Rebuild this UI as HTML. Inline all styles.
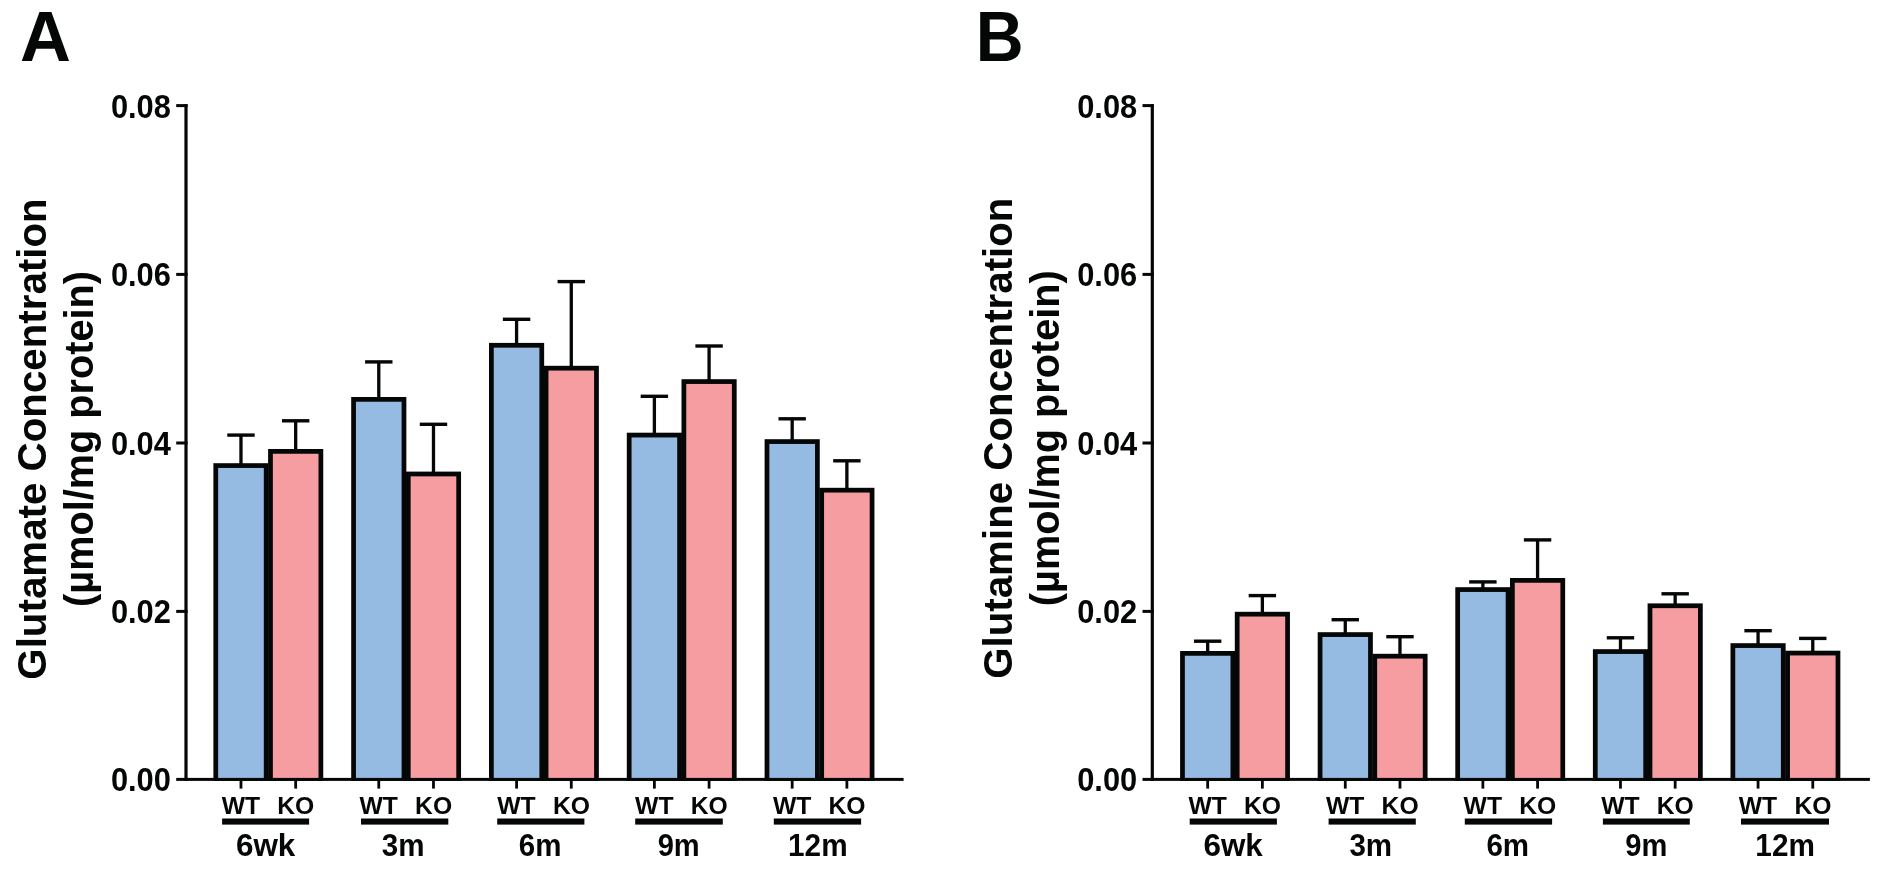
<!DOCTYPE html>
<html><head><meta charset="utf-8"><style>
html,body{margin:0;padding:0;background:#fff;width:1885px;height:877px;overflow:hidden}
svg{display:block;will-change:transform}
text{font-family:"Liberation Sans",sans-serif;font-weight:bold;fill:#050707}
</style></head><body>
<svg width="1885" height="877" viewBox="0 0 1885 877">
<rect width="1885" height="877" fill="#fff"/>
<rect x="184.40" y="104.30" width="3.20" height="676.60" fill="#050707"/>
<rect x="176.20" y="777.90" width="727.40" height="3.00" fill="#050707"/>
<rect x="176.20" y="104.10" width="11.40" height="3.00" fill="#050707"/>
<rect x="176.20" y="272.90" width="11.40" height="3.00" fill="#050707"/>
<rect x="176.20" y="441.50" width="11.40" height="3.00" fill="#050707"/>
<rect x="176.20" y="609.90" width="11.40" height="3.00" fill="#050707"/>
<text transform="translate(170.90,117.50) scale(0.907,1)" font-size="34" text-anchor="end">0.08</text>
<text transform="translate(170.90,286.30) scale(0.907,1)" font-size="34" text-anchor="end">0.06</text>
<text transform="translate(170.90,454.90) scale(0.907,1)" font-size="34" text-anchor="end">0.04</text>
<text transform="translate(170.90,623.30) scale(0.907,1)" font-size="34" text-anchor="end">0.02</text>
<text transform="translate(170.90,791.30) scale(0.907,1)" font-size="34" text-anchor="end">0.00</text>
<rect x="213.40" y="463.20" width="55.15" height="317.70" fill="#050707"/>
<rect x="218.15" y="467.95" width="45.65" height="309.95" fill="#96bbe3"/>
<rect x="239.32" y="434.40" width="3.30" height="29.80" fill="#050707"/>
<rect x="227.28" y="433.40" width="27.40" height="3.40" fill="#050707"/>
<rect x="239.57" y="780.40" width="2.80" height="8.20" fill="#050707"/>
<rect x="268.10" y="449.00" width="55.15" height="331.90" fill="#050707"/>
<rect x="272.85" y="453.75" width="45.65" height="324.15" fill="#f69da1"/>
<rect x="294.03" y="420.10" width="3.30" height="29.90" fill="#050707"/>
<rect x="281.98" y="419.10" width="27.40" height="3.40" fill="#050707"/>
<rect x="294.28" y="780.40" width="2.80" height="8.20" fill="#050707"/>
<text x="240.90" y="814.10" font-size="24.7" text-anchor="middle" >WT</text>
<text x="295.80" y="814.10" font-size="24.7" text-anchor="middle" >KO</text>
<rect x="222.10" y="818.50" width="87.00" height="6.10" fill="#050707"/>
<rect x="351.20" y="397.00" width="55.15" height="383.90" fill="#050707"/>
<rect x="355.95" y="401.75" width="45.65" height="376.15" fill="#96bbe3"/>
<rect x="377.13" y="361.20" width="3.30" height="36.80" fill="#050707"/>
<rect x="365.08" y="360.20" width="27.40" height="3.40" fill="#050707"/>
<rect x="377.38" y="780.40" width="2.80" height="8.20" fill="#050707"/>
<rect x="405.90" y="471.60" width="55.15" height="309.30" fill="#050707"/>
<rect x="410.65" y="476.35" width="45.65" height="301.55" fill="#f69da1"/>
<rect x="431.83" y="423.60" width="3.30" height="49.00" fill="#050707"/>
<rect x="419.78" y="422.60" width="27.40" height="3.40" fill="#050707"/>
<rect x="432.08" y="780.40" width="2.80" height="8.20" fill="#050707"/>
<text x="378.70" y="814.10" font-size="24.7" text-anchor="middle" >WT</text>
<text x="433.60" y="814.10" font-size="24.7" text-anchor="middle" >KO</text>
<rect x="361.00" y="818.50" width="87.30" height="6.10" fill="#050707"/>
<rect x="489.00" y="342.90" width="55.15" height="438.00" fill="#050707"/>
<rect x="493.75" y="347.65" width="45.65" height="430.25" fill="#96bbe3"/>
<rect x="514.93" y="318.60" width="3.30" height="25.30" fill="#050707"/>
<rect x="502.88" y="317.60" width="27.40" height="3.40" fill="#050707"/>
<rect x="515.18" y="780.40" width="2.80" height="8.20" fill="#050707"/>
<rect x="543.70" y="365.80" width="55.15" height="415.10" fill="#050707"/>
<rect x="548.45" y="370.55" width="45.65" height="407.35" fill="#f69da1"/>
<rect x="569.63" y="280.90" width="3.30" height="85.90" fill="#050707"/>
<rect x="557.58" y="279.90" width="27.40" height="3.40" fill="#050707"/>
<rect x="569.88" y="780.40" width="2.80" height="8.20" fill="#050707"/>
<text x="516.50" y="814.10" font-size="24.7" text-anchor="middle" >WT</text>
<text x="571.40" y="814.10" font-size="24.7" text-anchor="middle" >KO</text>
<rect x="497.20" y="818.50" width="87.20" height="6.10" fill="#050707"/>
<rect x="626.80" y="432.70" width="55.15" height="348.20" fill="#050707"/>
<rect x="631.55" y="437.45" width="45.65" height="340.45" fill="#96bbe3"/>
<rect x="652.73" y="395.60" width="3.30" height="38.10" fill="#050707"/>
<rect x="640.68" y="394.60" width="27.40" height="3.40" fill="#050707"/>
<rect x="652.98" y="780.40" width="2.80" height="8.20" fill="#050707"/>
<rect x="681.50" y="379.20" width="55.15" height="401.70" fill="#050707"/>
<rect x="686.25" y="383.95" width="45.65" height="393.95" fill="#f69da1"/>
<rect x="707.43" y="345.30" width="3.30" height="34.90" fill="#050707"/>
<rect x="695.38" y="344.30" width="27.40" height="3.40" fill="#050707"/>
<rect x="707.68" y="780.40" width="2.80" height="8.20" fill="#050707"/>
<text x="654.30" y="814.10" font-size="24.7" text-anchor="middle" >WT</text>
<text x="709.20" y="814.10" font-size="24.7" text-anchor="middle" >KO</text>
<rect x="635.20" y="818.50" width="87.60" height="6.10" fill="#050707"/>
<rect x="764.60" y="439.20" width="55.15" height="341.70" fill="#050707"/>
<rect x="769.35" y="443.95" width="45.65" height="333.95" fill="#96bbe3"/>
<rect x="790.53" y="418.10" width="3.30" height="22.10" fill="#050707"/>
<rect x="778.48" y="417.10" width="27.40" height="3.40" fill="#050707"/>
<rect x="790.78" y="780.40" width="2.80" height="8.20" fill="#050707"/>
<rect x="819.30" y="487.80" width="55.15" height="293.10" fill="#050707"/>
<rect x="824.05" y="492.55" width="45.65" height="285.35" fill="#f69da1"/>
<rect x="845.23" y="460.10" width="3.30" height="28.70" fill="#050707"/>
<rect x="833.18" y="459.10" width="27.40" height="3.40" fill="#050707"/>
<rect x="845.48" y="780.40" width="2.80" height="8.20" fill="#050707"/>
<text x="792.10" y="814.10" font-size="24.7" text-anchor="middle" >WT</text>
<text x="847.00" y="814.10" font-size="24.7" text-anchor="middle" >KO</text>
<rect x="773.80" y="818.50" width="87.30" height="6.10" fill="#050707"/>
<text transform="translate(265.60,856.2) scale(1.03,1)" font-size="30.5" text-anchor="middle">6wk</text>
<text transform="translate(403.10,856.2) scale(0.97,1)" font-size="30.5" text-anchor="middle">3m</text>
<text transform="translate(540.05,856.2) scale(0.968,1)" font-size="30.5" text-anchor="middle">6m</text>
<text transform="translate(678.65,856.2) scale(0.953,1)" font-size="30.5" text-anchor="middle">9m</text>
<text transform="translate(817.80,856.2) scale(0.976,1)" font-size="30.5" text-anchor="middle">12m</text>
<g transform="translate(45.8,439) rotate(-90)"><text x="0" y="0" font-size="40.3" text-anchor="middle">Glutamate Concentration</text></g>
<g transform="translate(92.5,439) rotate(-90) scale(0.985,1)"><text x="0" y="0" font-size="40.3" text-anchor="middle">(&#181;mol/mg protein)</text></g>
<text x="20.00" y="60.70" font-size="70.5" text-anchor="start" >A</text>
<rect x="1150.70" y="104.30" width="3.20" height="676.60" fill="#050707"/>
<rect x="1142.50" y="777.90" width="727.40" height="3.00" fill="#050707"/>
<rect x="1142.50" y="104.10" width="11.40" height="3.00" fill="#050707"/>
<rect x="1142.50" y="272.90" width="11.40" height="3.00" fill="#050707"/>
<rect x="1142.50" y="441.50" width="11.40" height="3.00" fill="#050707"/>
<rect x="1142.50" y="609.90" width="11.40" height="3.00" fill="#050707"/>
<text transform="translate(1137.20,117.50) scale(0.907,1)" font-size="34" text-anchor="end">0.08</text>
<text transform="translate(1137.20,286.30) scale(0.907,1)" font-size="34" text-anchor="end">0.06</text>
<text transform="translate(1137.20,454.90) scale(0.907,1)" font-size="34" text-anchor="end">0.04</text>
<text transform="translate(1137.20,623.30) scale(0.907,1)" font-size="34" text-anchor="end">0.02</text>
<text transform="translate(1137.20,791.30) scale(0.907,1)" font-size="34" text-anchor="end">0.00</text>
<rect x="1180.10" y="651.00" width="55.15" height="129.90" fill="#050707"/>
<rect x="1184.85" y="655.75" width="45.65" height="122.15" fill="#96bbe3"/>
<rect x="1206.02" y="640.50" width="3.30" height="11.50" fill="#050707"/>
<rect x="1193.97" y="639.50" width="27.40" height="3.40" fill="#050707"/>
<rect x="1206.27" y="780.40" width="2.80" height="8.20" fill="#050707"/>
<rect x="1234.80" y="611.80" width="55.15" height="169.10" fill="#050707"/>
<rect x="1239.55" y="616.55" width="45.65" height="161.35" fill="#f69da1"/>
<rect x="1260.72" y="594.90" width="3.30" height="17.90" fill="#050707"/>
<rect x="1248.67" y="593.90" width="27.40" height="3.40" fill="#050707"/>
<rect x="1260.97" y="780.40" width="2.80" height="8.20" fill="#050707"/>
<text x="1207.60" y="814.10" font-size="24.7" text-anchor="middle" >WT</text>
<text x="1262.50" y="814.10" font-size="24.7" text-anchor="middle" >KO</text>
<rect x="1189.70" y="818.50" width="87.20" height="6.10" fill="#050707"/>
<rect x="1317.70" y="632.20" width="55.15" height="148.70" fill="#050707"/>
<rect x="1322.45" y="636.95" width="45.65" height="140.95" fill="#96bbe3"/>
<rect x="1343.62" y="619.00" width="3.30" height="14.20" fill="#050707"/>
<rect x="1331.57" y="618.00" width="27.40" height="3.40" fill="#050707"/>
<rect x="1343.87" y="780.40" width="2.80" height="8.20" fill="#050707"/>
<rect x="1372.40" y="653.80" width="55.15" height="127.10" fill="#050707"/>
<rect x="1377.15" y="658.55" width="45.65" height="119.35" fill="#f69da1"/>
<rect x="1398.32" y="636.00" width="3.30" height="18.80" fill="#050707"/>
<rect x="1386.27" y="635.00" width="27.40" height="3.40" fill="#050707"/>
<rect x="1398.57" y="780.40" width="2.80" height="8.20" fill="#050707"/>
<text x="1345.20" y="814.10" font-size="24.7" text-anchor="middle" >WT</text>
<text x="1400.10" y="814.10" font-size="24.7" text-anchor="middle" >KO</text>
<rect x="1328.60" y="818.50" width="87.20" height="6.10" fill="#050707"/>
<rect x="1455.30" y="587.20" width="55.15" height="193.70" fill="#050707"/>
<rect x="1460.05" y="591.95" width="45.65" height="185.95" fill="#96bbe3"/>
<rect x="1481.22" y="581.20" width="3.30" height="7.00" fill="#050707"/>
<rect x="1469.17" y="580.20" width="27.40" height="3.40" fill="#050707"/>
<rect x="1481.47" y="780.40" width="2.80" height="8.20" fill="#050707"/>
<rect x="1510.00" y="578.00" width="55.15" height="202.90" fill="#050707"/>
<rect x="1514.75" y="582.75" width="45.65" height="195.15" fill="#f69da1"/>
<rect x="1535.92" y="539.20" width="3.30" height="39.80" fill="#050707"/>
<rect x="1523.88" y="538.20" width="27.40" height="3.40" fill="#050707"/>
<rect x="1536.17" y="780.40" width="2.80" height="8.20" fill="#050707"/>
<text x="1482.80" y="814.10" font-size="24.7" text-anchor="middle" >WT</text>
<text x="1537.70" y="814.10" font-size="24.7" text-anchor="middle" >KO</text>
<rect x="1464.80" y="818.50" width="87.30" height="6.10" fill="#050707"/>
<rect x="1592.90" y="649.20" width="55.15" height="131.70" fill="#050707"/>
<rect x="1597.65" y="653.95" width="45.65" height="123.95" fill="#96bbe3"/>
<rect x="1618.82" y="637.10" width="3.30" height="13.10" fill="#050707"/>
<rect x="1606.77" y="636.10" width="27.40" height="3.40" fill="#050707"/>
<rect x="1619.07" y="780.40" width="2.80" height="8.20" fill="#050707"/>
<rect x="1647.60" y="603.40" width="55.15" height="177.50" fill="#050707"/>
<rect x="1652.35" y="608.15" width="45.65" height="169.75" fill="#f69da1"/>
<rect x="1673.52" y="593.10" width="3.30" height="11.30" fill="#050707"/>
<rect x="1661.47" y="592.10" width="27.40" height="3.40" fill="#050707"/>
<rect x="1673.77" y="780.40" width="2.80" height="8.20" fill="#050707"/>
<text x="1620.40" y="814.10" font-size="24.7" text-anchor="middle" >WT</text>
<text x="1675.30" y="814.10" font-size="24.7" text-anchor="middle" >KO</text>
<rect x="1602.90" y="818.50" width="86.90" height="6.10" fill="#050707"/>
<rect x="1730.50" y="643.20" width="55.15" height="137.70" fill="#050707"/>
<rect x="1735.25" y="647.95" width="45.65" height="129.95" fill="#96bbe3"/>
<rect x="1756.42" y="630.00" width="3.30" height="14.20" fill="#050707"/>
<rect x="1744.38" y="629.00" width="27.40" height="3.40" fill="#050707"/>
<rect x="1756.67" y="780.40" width="2.80" height="8.20" fill="#050707"/>
<rect x="1785.20" y="650.70" width="55.15" height="130.20" fill="#050707"/>
<rect x="1789.95" y="655.45" width="45.65" height="122.45" fill="#f69da1"/>
<rect x="1811.12" y="637.70" width="3.30" height="14.00" fill="#050707"/>
<rect x="1799.08" y="636.70" width="27.40" height="3.40" fill="#050707"/>
<rect x="1811.38" y="780.40" width="2.80" height="8.20" fill="#050707"/>
<text x="1758.00" y="814.10" font-size="24.7" text-anchor="middle" >WT</text>
<text x="1812.90" y="814.10" font-size="24.7" text-anchor="middle" >KO</text>
<rect x="1741.00" y="818.50" width="88.00" height="6.10" fill="#050707"/>
<text transform="translate(1233.15,856.2) scale(1.03,1)" font-size="30.5" text-anchor="middle">6wk</text>
<text transform="translate(1370.75,856.2) scale(0.97,1)" font-size="30.5" text-anchor="middle">3m</text>
<text transform="translate(1507.70,856.2) scale(0.968,1)" font-size="30.5" text-anchor="middle">6m</text>
<text transform="translate(1646.30,856.2) scale(0.953,1)" font-size="30.5" text-anchor="middle">9m</text>
<text transform="translate(1785.10,856.2) scale(0.976,1)" font-size="30.5" text-anchor="middle">12m</text>
<g transform="translate(1012.0999999999999,438.2) rotate(-90)"><text x="0" y="0" font-size="40.3" text-anchor="middle">Glutamine Concentration</text></g>
<g transform="translate(1058.8,438.2) rotate(-90) scale(0.985,1)"><text x="0" y="0" font-size="40.3" text-anchor="middle">(&#181;mol/mg protein)</text></g>
<text transform="translate(975.80,60.7) scale(0.94,1)" font-size="70.5">B</text>
</svg></body></html>
